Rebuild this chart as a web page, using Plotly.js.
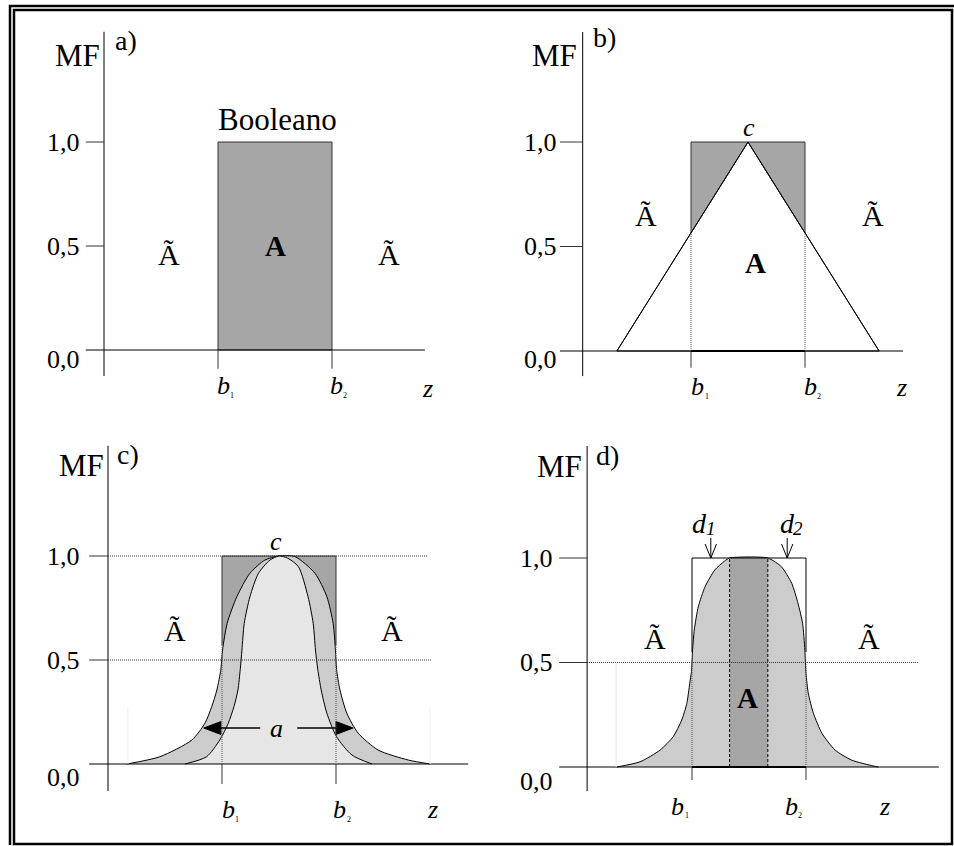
<!DOCTYPE html>
<html><head><meta charset="utf-8">
<script src="https://cdn.plot.ly/plotly-3.0.1.min.js"></script>
<style>html,body{margin:0;padding:0;background:#fff}#chart{width:954px;height:846px}</style>
</head><body><div id="chart"></div>
<script>
// ---------------- data ----------------
const mfTickVals = [0, 0.5, 1];
const mfTickText = ['0,0', '0,5', '1,0'];
const bLimits = [2, 4];                 // b1, b2
const bNames = ['1', '2'];
const dNames = ['1', '2'];
const crispMF = [0, 1];                 // crisp (Boolean) membership
// panel b : triangular MF
const triZ = [0.7, 3.0, 5.3];
const triMF = [0, 1, 0];
const triCutMF = 0.565;                 // triangle value at b1 / b2
// panel c : two bell shaped MFs
const outerZ  = [0.33,0.91,1.47,1.70,1.82,1.91,1.98,2.01,2.09,2.26,2.49,2.75,3.0,3.28,3.63,3.84,3.95,3.99,4.01,4.07,4.19,4.39,4.74,5.27,5.65];
const outerMF = [0,0.035,0.115,0.196,0.276,0.356,0.455,0.548,0.676,0.804,0.917,0.98,1,0.997,0.917,0.804,0.676,0.548,0.455,0.356,0.244,0.148,0.067,0.019,0];
const innerZ  = [1.35,1.73,1.96,2.11,2.21,2.28,2.32,2.35,2.39,2.49,2.64,2.84,3.0,3.15,3.34,3.51,3.60,3.64,3.68,3.74,3.84,4.01,4.28,4.63];
const innerMF = [0,0.035,0.115,0.196,0.276,0.356,0.455,0.548,0.676,0.804,0.917,0.98,1,0.99,0.949,0.804,0.676,0.548,0.455,0.356,0.244,0.131,0.043,0];
const cCutMF = 0.57;
const spreadHeadZ = [1.68, 4.30];       // arrow heads of "a"
const spreadTailZ = [2.67, 3.32];
const spreadMF = 0.173;
const cFaintZ = [0.35, 5.65];
// panel d : bell with flat core
const bellZ  = [0.68,1.09,1.44,1.67,1.82,1.91,1.96,1.99,2.01,2.04,2.11,2.23,2.40,2.57,2.66,3.33,3.57,3.75,3.86,3.94,3.98,4.0,4.04,4.13,4.28,4.51,4.80,5.18,5.27];
const bellMF = [0,0.025,0.081,0.145,0.225,0.305,0.40,0.456,0.56,0.656,0.767,0.863,0.943,0.985,1,1,0.958,0.879,0.783,0.688,0.56,0.448,0.353,0.257,0.161,0.081,0.033,0.005,0];
const coreZ = [2.66, 3.33];
const dMarkZ = [2.33, 3.67];
const dCutMF = 0.55;
const dFaintZ = 0.67;

// ---------------- layout geometry ----------------
const W = 954, H = 846, SX = 57;
const FONT = 'Liberation Serif, Times New Roman, serif';
const panels = [
  {xa:'x',  ya:'y',  pxX:[0,477],   pxY:[0,423],   ox:104, oy:350, sy:208, yz:0,    xExt:[-0.32,5.63], yExt:[-0.125,1.53], bTick:-0.09, lab:-0.39, zero:-0.048},
  {xa:'x2', ya:'y2', pxX:[477,954], pxY:[0,423],   ox:577, oy:351, sy:209, yz:0.1,  xExt:[-0.30,5.72], yExt:[-0.12,1.526], bTick:-0.08, lab:-0.32, zero:-0.043},
  {xa:'x3', ya:'y3', pxX:[0,477],   pxY:[423,846], ox:108, oy:764, sy:208, yz:0,    xExt:[-0.33,6.32], yExt:[-0.13,1.53],  bTick:-0.096,lab:-0.46, zero:-0.067},
  {xa:'x4', ya:'y4', pxX:[477,954], pxY:[423,846], ox:578, oy:767, sy:209, yz:0.16, xExt:[-0.33,6.33], yExt:[-0.115,1.536],bTick:-0.062,lab:-0.40, zero:-0.067}
];
const layout = {width:W, height:H, margin:{l:0,r:0,t:0,b:0}, paper_bgcolor:'#fff', plot_bgcolor:'rgba(0,0,0,0)',
  showlegend:false, shapes:[], annotations:[]};
panels.forEach((p,i)=>{
  const k = i===0 ? '' : String(i+1);
  layout['xaxis'+k] = {domain:[p.pxX[0]/W, p.pxX[1]/W], range:[(p.pxX[0]-p.ox)/SX, (p.pxX[1]-p.ox)/SX],
    visible:false, fixedrange:true, anchor:'y'+k, showgrid:false, zeroline:false};
  layout['yaxis'+k] = {domain:[1-p.pxY[1]/H, 1-p.pxY[0]/H], range:[(p.oy-p.pxY[1])/p.sy, (p.oy-p.pxY[0])/p.sy],
    visible:false, fixedrange:true, anchor:'x'+k, showgrid:false, zeroline:false};
});
const DOT = '1px,1px', DASH = '3px,2px';
function L(p,x0,y0,x1,y1,o){o=o||{};layout.shapes.push({type:'line',xref:p.xa,yref:p.ya,x0:x0,y0:y0,x1:x1,y1:y1,
  line:{color:o.c||'#000',width:o.w||1,dash:o.d||'solid'},layer:o.layer||'above'});}
function T(p,text,x,y,size,o){layout.annotations.push(Object.assign({xref:p.xa,yref:p.ya,x:x,y:y,text:text,showarrow:false,
  xanchor:'center',yanchor:'middle',font:{family:FONT,size:size,color:'#000'}},o||{}));}
const traces = [];
function S(p,x,y,o){traces.push(Object.assign({type:'scatter',mode:'lines',x:x,y:y,xaxis:p.xa,yaxis:p.ya,hoverinfo:'skip'},o));}

// paper border (double frame)
function PX(px){return px/W;} function PY(py){return 1-py/H;}
layout.shapes.push({type:'path',xref:'paper',yref:'paper',path:`M${PX(10)},${PY(845)} L${PX(10)},${PY(6)} L${PX(956)},${PY(6)}`,line:{color:'#000',width:2.5}});
layout.shapes.push({type:'rect',xref:'paper',yref:'paper',x0:PX(14),y0:PY(844),x1:PX(952),y1:PY(10),line:{color:'#000',width:2.5}});

// common axes, ticks and labels
const panelTag = ['a)','b)','c)','d)'];
const labelPos = [
  {mf:[-0.47,1.418], tag:[0.39,1.49], bz:[2.10,4.08], sz:[2.25,4.23], by:-0.173, sy:-0.221, z:[5.68,-0.183]},
  {mf:[-0.39,1.416], tag:[0.49,1.50], bz:[2.12,4.09], sz:[2.28,4.24], by:-0.172, sy:-0.220, z:[5.70,-0.177]},
  {mf:[-0.46,1.433], tag:[0.35,1.486],bz:[2.11,4.07], sz:[2.26,4.22], by:-0.221, sy:-0.269, z:[5.70,-0.22]},
  {mf:[-0.33,1.44],  tag:[0.51,1.49], bz:[1.75,3.74], sz:[1.91,3.89], by:-0.187, sy:-0.234, z:[5.37,-0.187]}
];
panels.forEach((p,i)=>{
  L(p,p.xExt[0],0,p.xExt[1],0);
  L(p,p.yz,p.yExt[0],p.yz,p.yExt[1]);
  mfTickVals.forEach((v,j)=>{
    if (v>0) L(p,p.xExt[0],v,p.yz,v,{c:'#333'});
    T(p,mfTickText[j],p.lab,v===0?p.zero:v,26,{xanchor:'right'});
  });
  bLimits.forEach(b=>L(p,b,0,b,p.bTick,{c:'#333'}));
  const lp = labelPos[i];
  T(p,'MF',lp.mf[0],lp.mf[1],31);
  T(p,panelTag[i],lp.tag[0],lp.tag[1],28);
  bNames.forEach((n,j)=>{
    T(p,'<i>b</i>',lp.bz[j],lp.by,26);
    T(p,n,lp.sz[j],lp.sy,8);
  });
  T(p,'<i>z</i>',lp.z[0],lp.z[1],26);
});

// ---- panel a ----
const pa = panels[0];
S(pa,[bLimits[0],bLimits[0],bLimits[1],bLimits[1],bLimits[0]],[crispMF[0],crispMF[1],crispMF[1],crispMF[0],crispMF[0]],
  {fill:'toself',fillcolor:'#a6a6a6',line:{color:'#333',width:1}});
T(pa,'Booleano',3.05,1.11,31);
T(pa,'Ã',1.14,0.457,30); T(pa,'Ã',5.0,0.457,30);
T(pa,'<b>A</b>',3.0,0.5,29);

// ---- panel b ----
const pb = panels[1];
S(pb,[triZ[0],triZ[1],triZ[2],triZ[0]],[triMF[0],triMF[1],triMF[2],triMF[0]],{fill:'toself',fillcolor:'#fff',line:{color:'#000',width:1}});
S(pb,[bLimits[0],bLimits[0],triZ[1],bLimits[0]],[triCutMF,1,1,triCutMF],{fill:'toself',fillcolor:'#a6a6a6',line:{color:'#333',width:1}});
S(pb,[triZ[1],bLimits[1],bLimits[1],triZ[1]],[1,1,triCutMF,1],{fill:'toself',fillcolor:'#a6a6a6',line:{color:'#333',width:1}});
S(pb,[triZ[0],triZ[1],triZ[2]],triMF,{line:{color:'#000',width:1}});
bLimits.forEach(b=>L(pb,b,0,b,triCutMF,{c:'#555',d:DOT}));
L(pb,bLimits[0],0,bLimits[1],0,{w:2});
T(pb,'<i>c</i>',3.02,1.07,26);
T(pb,'Ã',1.21,0.65,30); T(pb,'Ã',5.19,0.65,30);
T(pb,'<b>A</b>',3.14,0.42,29);

// ---- panel c ----
const pc = panels[2];
S(pc,[bLimits[0],bLimits[0],bLimits[1],bLimits[1]],[cCutMF,1,1,cCutMF],{fill:'toself',fillcolor:'#a6a6a6',line:{color:'#333',width:1}});
S(pc,outerZ,outerMF,{fill:'toself',fillcolor:'#cccccc',line:{color:'#000',width:1,shape:'spline',smoothing:0.7}});
S(pc,innerZ,innerMF,{fill:'toself',fillcolor:'#e6e6e6',line:{color:'#000',width:1,shape:'spline',smoothing:0.7}});
L(pc,pc.yz,1,5.61,1,{c:'#333',d:DOT});
L(pc,pc.yz,0.5,5.68,0.5,{c:'#333',d:DOT});
bLimits.forEach(b=>L(pc,b,0,b,cCutMF,{c:'#555',d:DOT}));
cFaintZ.forEach(z=>L(pc,z,0,z,0.27,{c:'#eeeeee'}));
L(pc,spreadTailZ[0],spreadMF,spreadHeadZ[0]+0.3,spreadMF,{w:1.3});
L(pc,spreadTailZ[1],spreadMF,spreadHeadZ[1]-0.3,spreadMF,{w:1.3});
S(pc,[spreadHeadZ[0],spreadHeadZ[0]+0.3,spreadHeadZ[0]+0.3,spreadHeadZ[0]],[spreadMF,spreadMF+0.031,spreadMF-0.031,spreadMF],{fill:'toself',fillcolor:'#000',line:{color:'#000',width:1}});
S(pc,[spreadHeadZ[1],spreadHeadZ[1]-0.3,spreadHeadZ[1]-0.3,spreadHeadZ[1]],[spreadMF,spreadMF+0.031,spreadMF-0.031,spreadMF],{fill:'toself',fillcolor:'#000',line:{color:'#000',width:1}});
T(pc,'<i>a</i>',2.96,spreadMF,26);
T(pc,'<i>c</i>',2.95,1.07,26);
T(pc,'Ã',1.18,0.64,30); T(pc,'Ã',4.98,0.64,30);

// ---- panel d ----
const pd = panels[3];
S(pd,[bLimits[0],bLimits[0],bLimits[1],bLimits[1]],[dCutMF,1,1,dCutMF],{line:{color:'#000',width:1}});
S(pd,bellZ,bellMF,{fill:'toself',fillcolor:'#cccccc',line:{color:'#000',width:1,shape:'spline',smoothing:0.6}});
S(pd,[coreZ[0],coreZ[0],coreZ[1],coreZ[1],coreZ[0]],[0,1,1,0,0],{fill:'toself',fillcolor:'#a6a6a6',line:{width:0,color:'rgba(0,0,0,0)'}});
coreZ.forEach(z=>L(pd,z,0,z,1,{d:DASH}));
L(pd,coreZ[0],1,coreZ[1],1);
L(pd,pd.yz,0.5,5.98,0.5,{c:'#333',d:DOT});
bLimits.forEach(b=>L(pd,b,0,b,0.5,{c:'#555',d:DOT}));
L(pd,dFaintZ,0,dFaintZ,0.5,{c:'#e6e6e6'});
L(pd,bLimits[0],0,bLimits[1],0,{w:2});
dMarkZ.forEach(z=>{
  S(pd,[z,z,null,z-0.1,z,z+0.1],[1.096,1.0,null,1.067,1.0,1.067],{line:{color:'#000',width:1}});
});
const dLabZ = [2.14, 3.67], dSubZ = [2.34, 3.86];
dNames.forEach((n,j)=>{
  T(pd,'<i>d</i>',dLabZ[j],1.167,28);
  T(pd,'<i>'+n+'</i>',dSubZ[j],1.142,19);
});
T(pd,'Ã',1.35,0.617,30); T(pd,'Ã',5.1,0.617,30);
T(pd,'<b>A</b>',2.98,0.33,29);

Plotly.newPlot('chart',traces,layout,{staticPlot:true,displayModeBar:false});
</script>
</body></html>
